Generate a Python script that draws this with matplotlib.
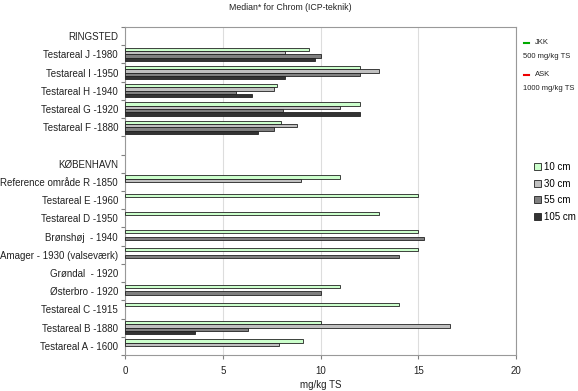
import numpy as np
import matplotlib
matplotlib.use("Agg")
import matplotlib.pyplot as plt
from matplotlib.lines import Line2D

plt.rcParams['font.family'] = ['Liberation Sans', 'DejaVu Sans']

categories = ["RINGSTED", "Testareal J -1980", "Testareal I -1950", "Testareal H -1940",
              "Testareal G -1920", "Testareal F -1880", "", "KØBENHAVN",
              "Reference område R -1850", "Testareal E -1960", "Testareal D -1950",
              "Brønshøj  - 1940", "Amager - 1930 (valseværk)", "Grøndal  - 1920",
              "Østerbro - 1920", "Testareal C -1915", "Testareal B -1880", "Testareal A - 1600"]
nan = np.nan
cm10  = [nan, 9.4, 12.0, 7.8, 12.0, 8.0, nan, nan, 11.0, 15.0, 13.0, 15.0, 15.0, nan, 11.0, 14.0, 10.0, 9.1]
cm30  = [nan, 8.2, 13.0, 7.6, 11.0, 8.8, nan, nan, 9.0, nan, nan, nan, nan, nan, nan, nan, 16.6, 7.9]
cm55  = [nan, 10.0, 12.0, 5.7, 8.1, 7.6, nan, nan, nan, nan, nan, 15.3, 14.0, nan, 10.0, nan, 6.3, nan]
cm105 = [nan, 9.7, 8.2, 6.5, 12.0, 6.8, nan, nan, nan, nan, nan, nan, nan, nan, nan, nan, 3.6, nan]
series_names = ["10 cm", "30 cm", "55 cm", "105 cm"]
series_values = [cm10, cm30, cm55, cm105]
colors = ["#ccffcc", "#c0c0c0", "#808080", "#333333"]
xticks = [0, 5, 10, 15, 20]

fig = plt.figure(figsize=(5.78, 3.91), dpi=100)
ax = fig.add_axes([125/578, 1-355/391, (516-125)/578, (355-27)/391])

n = len(categories)
y = np.arange(n)
h = 0.18
offsets = [-1.5*h, -0.5*h, 0.5*h, 1.5*h]
for vals, c, off, name in zip(series_values, colors, offsets, series_names):
    v = np.array(vals, dtype=float)
    mask = ~np.isnan(v)
    ax.barh(y[mask] + off, v[mask], height=h, color=c, edgecolor="#222222",
            linewidth=0.6, label=name, zorder=3)

ax.set_ylim(n - 0.5, -0.5)
ax.set_xlim(0, 20)
ax.set_xticks(xticks)
ax.set_xticklabels([str(t) for t in xticks], fontsize=7, color="#222222")
ax.set_yticks(np.arange(n + 1) - 0.5)
ax.set_yticklabels([])
ax.set_yticks(y, minor=True)
ax.set_yticklabels(categories, minor=True, fontsize=7, color="#222222")
ax.tick_params(axis="y", which="minor", length=0, pad=5)
ax.tick_params(axis="y", which="major", length=3, color="#808080")
ax.tick_params(axis="x", length=3, color="#808080", pad=5)
ax.grid(axis="x", color="#dddddd", linewidth=0.8, zorder=0)
for s in ax.spines.values():
    s.set_color("#999999")
    s.set_linewidth(0.8)
ax.set_xlabel("mg/kg TS", fontsize=7, color="#222222", labelpad=3)

fig.text(290/578, 1-8/391, "Median* for Chrom (ICP-teknik)", ha="center", va="center",
         fontsize=6.3, color="#222222")

# limit legend
def fx(px):
    return px / 578
def fy(py):
    return 1 - py / 391
fig.add_artist(Line2D([fx(524), fx(529)], [fy(43), fy(43)], color="#00aa00", linewidth=1.5))
fig.text(fx(535), fy(43), "JKK", fontsize=5.5, color="#222222", ha="left", va="center")
fig.text(fx(523), fy(57), "500 mg/kg TS", fontsize=5.5, color="#222222", ha="left", va="center")
fig.add_artist(Line2D([fx(524), fx(529)], [fy(75), fy(75)], color="#ee0000", linewidth=1.5))
fig.text(fx(535), fy(75), "ASK", fontsize=5.5, color="#222222", ha="left", va="center")
fig.text(fx(523), fy(89), "1000 mg/kg TS", fontsize=5.5, color="#222222", ha="left", va="center")

handles, labels = ax.get_legend_handles_labels()
leg = fig.legend(handles, labels, loc="upper left", bbox_to_anchor=(fx(534), fy(162)),
                 frameon=False, fontsize=7, handlelength=0.7, handleheight=0.7,
                 handletextpad=0.3, labelspacing=0.68, borderaxespad=0, borderpad=0)

fig.savefig("out.png", dpi=100)
